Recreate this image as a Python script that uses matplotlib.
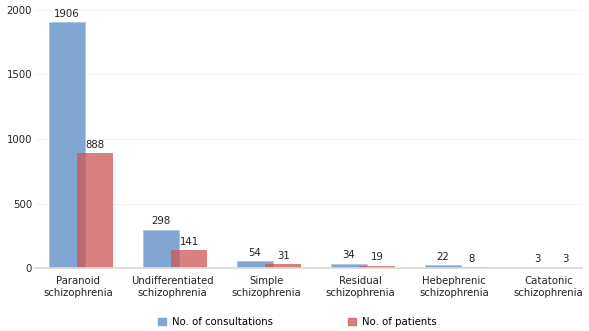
import matplotlib
matplotlib.use("Agg")
import matplotlib.pyplot as plt
from matplotlib.patches import Patch
import numpy as np

# Data
categories = ["Paranoid\nschizophrenia", "Undifferentiated\nschizophrenia", "Simple\nschizophrenia",
              "Residual\nschizophrenia", "Hebephrenic\nschizophrenia", "Catatonic\nschizophrenia"]
consultations = [1906, 298, 54, 34, 22, 3]
patients = [888, 141, 31, 19, 8, 3]

blue = "#80a6d1"
red = (205/255, 86/255, 86/255, 0.75)
fs = 7.3

fig = plt.figure(figsize=(5.89, 3.31), dpi=100)
ax = fig.add_axes([0.0594, 0.190, 0.929, 0.780])

x = np.arange(len(categories))
w = 0.385
xb = x - 0.12
xr = x + 0.18
ax.bar(xb, consultations, width=w, color=blue, edgecolor="#a9c3e2", linewidth=0.5, zorder=2)
ax.bar(xr, patients, width=w, color=red, linewidth=0, zorder=3)

for xi, v in zip(xb, consultations):
    ax.text(xi, v + 25, str(v), ha="center", va="bottom", fontsize=fs, color="#222222")
for xi, v in zip(xr, patients):
    ax.text(xi, v + 25, str(v), ha="center", va="bottom", fontsize=fs, color="#222222")

ax.set_xlim(-0.46, 5.36)
ax.set_ylim(0, 2000)
ax.set_yticks([0, 500, 1000, 1500, 2000])
ax.set_xticks(x)
ax.set_xticklabels(categories, fontsize=fs, color="#222222")
ax.tick_params(axis="y", labelsize=fs, labelcolor="#222222", length=0, pad=2)
ax.tick_params(axis="x", length=0, pad=6)
ax.grid(axis="y", color="#f3f3f3", linewidth=0.8, zorder=0)
for s in ["top", "right", "left"]:
    ax.spines[s].set_visible(False)
ax.spines["bottom"].set_color("#d9d9d9")
ax.spines["bottom"].set_linewidth(1.2)
ax.spines["bottom"].set_zorder(4)

handles = [Patch(color=blue, label="No. of consultations"),
           Patch(color=red, label="No. of patients")]
fig.legend(handles=handles, loc="center", bbox_to_anchor=(297.5/589, 9/331), ncol=2,
           frameon=False, fontsize=fs, handlelength=0.8, handleheight=0.8,
           handletextpad=0.6, columnspacing=7.4)

fig.savefig("out.png", dpi=100)
